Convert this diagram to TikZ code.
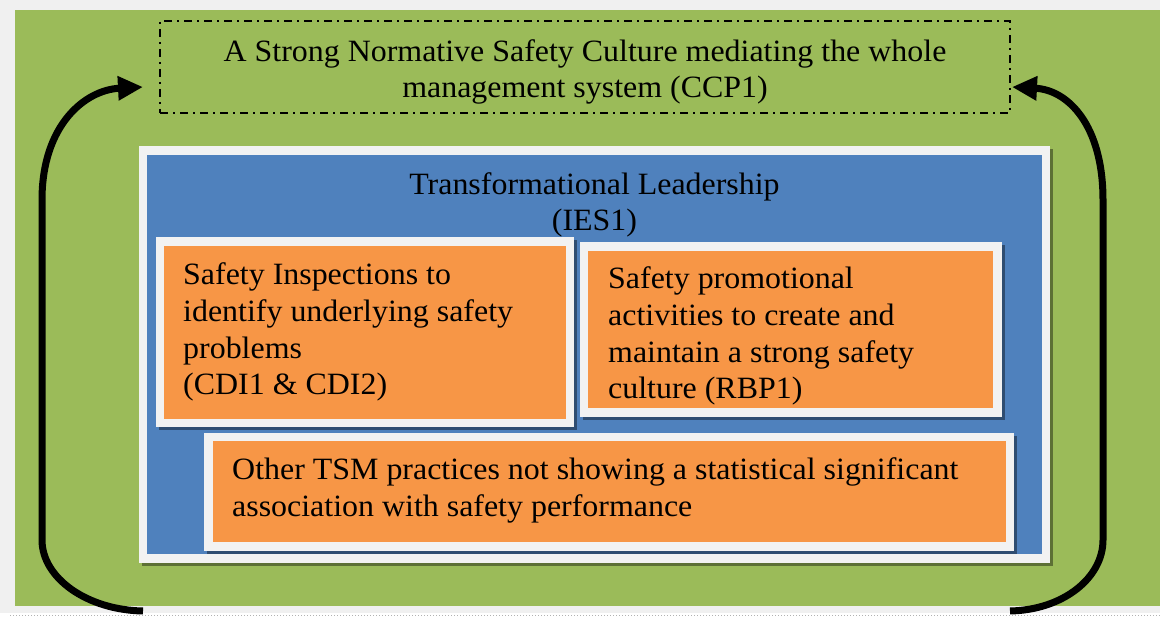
\documentclass[tikz,border=0pt]{standalone}
\usepackage{fontspec}
\setmainfont{Liberation Serif}[FakeStretch=1.03]
\usetikzlibrary{arrows.meta}
\definecolor{bggray}{HTML}{F0F0F0}
\definecolor{fgreen}{HTML}{9BBB59}
\definecolor{fblue}{HTML}{4F81BD}
\definecolor{forange}{HTML}{F79646}
\definecolor{fwhite}{HTML}{F2F2F2}
\newcommand\txtfont{\fontsize{31}{36.7}\selectfont}
\begin{document}
\begin{tikzpicture}[x=1pt,y=-1pt,
  panel/.style={anchor=north west, inner sep=0pt, outer sep=0pt, draw=none},
  boxshadow/.style={panel, fill=black, fill opacity=0.4},
  whiteframe/.style={panel, fill=fwhite},
  txt/.style={inner sep=0pt, font=\txtfont, text=black},
  cyclearrow/.style={line width=7pt, -{Triangle[length=25pt,width=23pt]}},
  ]
\useasboundingbox (0,0) rectangle (1160,617);
\fill[bggray] (0,0) rectangle (1160,617);
\fill[white] (0,613) rectangle (1160,617);
\draw[gray!60, dotted, line width=1pt] (10,615.5) -- (1160,615.5);
% green background
\node (bg) [panel, fill=fgreen, minimum width=1145pt, minimum height=596pt] at (15,10) {};
% dashed top box
\node (culturebox) [panel, draw=black, line width=1.5pt, dash pattern=on 8pt off 5pt on 2pt off 5pt, minimum width=850pt, minimum height=92pt] at (160,21) {};
\node (culture) [txt, anchor=north, align=center] at (585,35.3) {\strut A Strong Normative Safety Culture mediating the whole\\management system (CCP1)};
% blue leadership box
\node (blueshadow) [boxshadow, minimum width=911pt, minimum height=417pt] at (142,149) {};
\node (blueframe) [whiteframe, minimum width=911pt, minimum height=417pt] at (139,146) {};
\node (blue) [panel, fill=fblue, minimum width=895pt, minimum height=399pt] at (147,155) {};
\node (lead) [txt, anchor=north, align=center] at (594.5,168.3) {\strut Transformational Leadership\\(IES1)};
% box 1
\node (b1shadow) [boxshadow, minimum width=418pt, minimum height=190pt] at (159,240) {};
\node (b1frame) [whiteframe, minimum width=418pt, minimum height=190pt] at (156,237) {};
\node (b1) [panel, fill=forange, minimum width=402pt, minimum height=173pt] at (164,246) {};
\node (b1text) [txt, anchor=north west, align=left] at (183,258.8) {\strut Safety Inspections to\\identify underlying safety\\problems\\(CDI1 \& CDI2)};
% box 2
\node (b2shadow) [boxshadow, minimum width=422pt, minimum height=175pt] at (583,245) {};
\node (b2frame) [whiteframe, minimum width=422pt, minimum height=175pt] at (580,242) {};
\node (b2) [panel, fill=forange, minimum width=405pt, minimum height=157pt] at (588,251) {};
\node (b2text) [txt, anchor=north west, align=left] at (608,262.8) {\strut Safety promotional\\activities to create and\\maintain a strong safety\\culture (RBP1)};
% box 3
\node (b3shadow) [boxshadow, minimum width=810pt, minimum height=118pt] at (207,436) {};
\node (b3frame) [whiteframe, minimum width=810pt, minimum height=118pt] at (204,433) {};
\node (b3) [panel, fill=forange, minimum width=793pt, minimum height=101pt] at (213,441) {};
\node (b3text) [txt, anchor=north west, align=left] at (232,453.6) {\strut Other TSM practices not showing a statistical significant\\association with safety performance};
% feedback arrows
\coordinate (lstart) at (143,611);
\coordinate (ltip) at (143,87);
\coordinate (rstart) at (1010,611);
\coordinate (rtip) at (1012,87);
\draw[cyclearrow] (lstart) .. controls (87,610) and (42,578) .. (42,540) -- (42,200) .. controls (42,125) and (85,90) .. (ltip);
\draw[cyclearrow] (rstart) .. controls (1063,610) and (1103,578) .. (1103,540) -- (1103,200) .. controls (1103,125) and (1068,90) .. (rtip);
\end{tikzpicture}
\end{document}
